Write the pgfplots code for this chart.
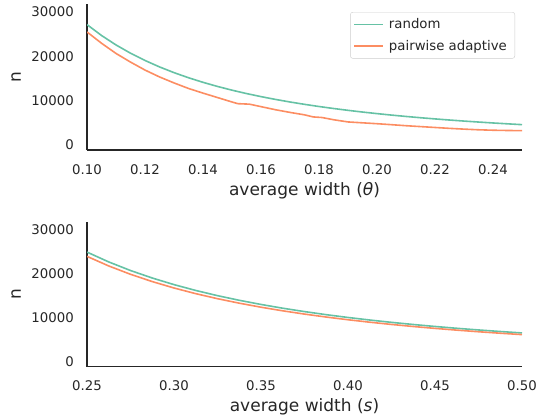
\documentclass[border=0pt]{standalone}
\usepackage{fontspec}
\setmainfont{DejaVu Sans}[ItalicFont={DejaVu Sans Oblique}]
\usepackage{pgfplots}
\pgfplotsset{compat=1.18}

\definecolor{sgreen}{HTML}{66C2A5}
\definecolor{sorange}{HTML}{FC8D62}
\definecolor{spine}{HTML}{262626}

\pgfplotsset{
  panel/.style={
    scale only axis, width=435pt,
    axis lines=left, axis line style={-, draw=spine, line width=1.1pt},
    major tick length=0pt,
    ymin=-1130, ymax=31800,
    ytick={0,10000,20000,30000},
    scaled ticks=false,
    /pgf/number format/assume math mode=true,
    /pgf/number format/1000 sep={},
    tick label style={font=\fontsize{13.3}{16}\selectfont, text=spine, inner sep=0pt},
    yticklabel style={xshift=-13pt},
    xticklabel style={yshift=-14pt, /pgf/number format/fixed, /pgf/number format/fixed zerofill, /pgf/number format/precision=2},
    label style={font=\fontsize{17}{20}\selectfont, text=spine, inner sep=0pt},
    ylabel={n},
    ylabel style={at={(axis description cs:-0.163,0.5)}, anchor=center},
  },
  curve/.style={color=#1, line width=1.6pt, mark=none},
}

\begin{document}
\begin{tikzpicture}
\begin{axis}[panel, at={(87pt,266pt)}, anchor=south west, height=146pt,
  xmin=0.10, xmax=0.25, xtick={0.10,0.12,...,0.25},
  xlabel={average width (\textit{θ})},
  xlabel style={at={(axis description cs:0.5,-0.219)}, anchor=north},
  legend style={at={(axis description cs:1,1)}, anchor=north east, xshift=-7pt, yshift=-8pt,
    draw=black!20, fill=white, rounded corners=2.5pt,
    font=\fontsize{13.3}{16}\selectfont, text=spine,
    inner xsep=3pt, inner ysep=4.5pt, row sep=6pt,
    nodes={inner xsep=5pt, inner ysep=2pt}},
  legend cell align=left,
  legend image code/.code={\draw[#1, line width=1.6pt] (0pt,0pt) -- (29pt,0pt);},
  ]
\addplot[curve=sgreen] coordinates {
(0.100,27150)(0.105,24699)(0.110,22567)(0.115,20702)(0.120,19061)(0.125,17610)
(0.130,16320)(0.135,15168)(0.140,14135)(0.145,13204)(0.150,12364)(0.155,11601)
(0.160,10909)(0.165,10277)(0.170,9699)(0.175,9168)(0.180,8680)(0.185,8231)
(0.190,7816)(0.195,7432)(0.200,7076)(0.205,6745)(0.210,6437)(0.215,6150)
(0.220,5881)(0.225,5630)(0.230,5395)(0.235,5175)(0.240,4968)(0.245,4773)(0.250,4589)};
\addplot[curve=sorange] coordinates {
(0.100,25500)(0.105,22950)(0.110,20650)(0.115,18700)(0.120,16900)(0.125,15350)
(0.130,14000)(0.135,12750)(0.140,11700)(0.145,10700)(0.150,9700)(0.152,9320)
(0.156,9210)(0.160,8650)(0.165,7950)(0.170,7350)(0.175,6800)(0.178,6330)
(0.181,6200)(0.185,5700)(0.190,5200)(0.195,5000)(0.200,4800)(0.205,4580)
(0.210,4350)(0.215,4150)(0.220,3950)(0.225,3750)(0.230,3580)(0.235,3430)
(0.240,3330)(0.245,3270)(0.250,3235)};
\legend{random, pairwise adaptive}
\end{axis}

\begin{axis}[panel, at={(87pt,49.3pt)}, anchor=south west, height=145pt,
  xmin=0.25, xmax=0.50, xtick={0.25,0.30,...,0.51},
  xlabel={average width (\textit{s})},
  xlabel style={at={(axis description cs:0.5,-0.2207)}, anchor=north},
  ]
\addplot[curve=sgreen] coordinates {
(0.2500,24900)(0.2625,22662)(0.2750,20716)(0.2875,19013)(0.3000,17513)(0.3125,16187)
(0.3250,15007)(0.3375,13953)(0.3500,13007)(0.3625,12155)(0.3750,11385)(0.3875,10687)
(0.4000,10052)(0.4125,9472)(0.4250,8942)(0.4375,8456)(0.4500,8008)(0.4625,7596)
(0.4750,7215)(0.4875,6862)(0.5000,6535)};
\addplot[curve=sorange] coordinates {
(0.2500,23930)(0.2625,21750)(0.2750,19856)(0.2875,18201)(0.3000,16745)(0.3125,15459)
(0.3250,14317)(0.3375,13297)(0.3500,12383)(0.3625,11561)(0.3750,10818)(0.3875,10146)
(0.4000,9534)(0.4125,8976)(0.4250,8467)(0.4375,8000)(0.4500,7570)(0.4625,7175)
(0.4750,6810)(0.4875,6472)(0.5000,6159)};
\end{axis}

\pgfresetboundingbox
\useasboundingbox (0,0) rectangle (537pt,416pt);
\end{tikzpicture}
\end{document}
